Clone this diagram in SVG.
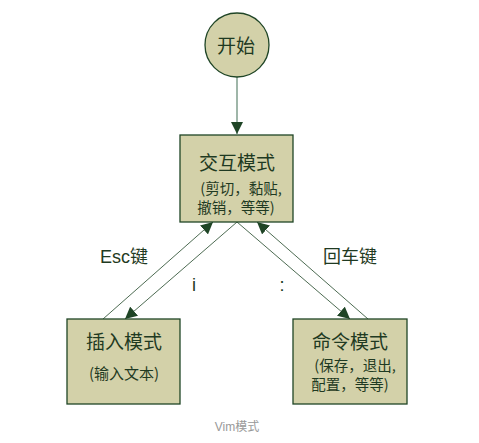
<svg xmlns="http://www.w3.org/2000/svg" width="479" height="443" viewBox="0 0 479 443">
<style>
.n{fill:#d3d1a9;stroke:#1f4526;stroke-width:1.3}
.t{font-family:"Noto Sans CJK SC","Liberation Sans",sans-serif;fill:#1f3a22;text-anchor:middle}
.c{stroke:#1f4526;stroke-width:0.8;fill:none}
.l{font-family:"Liberation Sans","Noto Sans CJK SC",sans-serif;fill:#1f3a22;font-size:18px;text-anchor:middle}
</style>
<defs>
<marker id="a" viewBox="0 0 10 10" refX="10" refY="5" markerWidth="12" markerHeight="12" markerUnits="userSpaceOnUse" orient="auto">
<path d="M0,0 L10,5 L0,10 z" fill="#1f4526"/>
</marker>
</defs>
<rect width="479" height="443" fill="#fff"/>
<g id="connectors">
<line x1="237" y1="77" x2="237" y2="134" stroke="#7f9e8c" stroke-width="1.5" marker-end="url(#a)"/>
<line class="c" x1="103" y1="319" x2="213" y2="222" marker-end="url(#a)"/>
<line class="c" x1="237" y1="222" x2="125" y2="319" marker-end="url(#a)"/>
<line class="c" x1="237" y1="222" x2="350" y2="319" marker-end="url(#a)"/>
<line class="c" x1="368" y1="319" x2="257" y2="222" marker-end="url(#a)"/>
<text class="l" x="124" y="263">Esc键</text>
<text class="l" x="194" y="291">i</text>
<text class="l" x="282" y="291">:</text>
<text class="l" x="350" y="263">回车键</text>
</g>
<g id="start">
<circle class="n" cx="237" cy="45" r="32"/>
<text class="t" x="236" y="53" font-size="19">开始</text>
</g>
<g id="interactive">
<rect class="n" x="180" y="135" width="113" height="87"/>
<text class="t" x="237" y="170" font-size="19">交互模式</text>
<text class="t" x="241" y="194" font-size="14.5">(剪切，黏贴,</text>
<text class="t" x="236" y="213" font-size="14.5">撤销，等等)</text>
</g>
<g id="insert">
<rect class="n" x="67" y="319" width="113" height="85"/>
<text class="t" x="124" y="349" font-size="19">插入模式</text>
<text class="t" x="124" y="379" font-size="15">(输入文本)</text>
</g>
<g id="command">
<rect class="n" x="293" y="319" width="114" height="85"/>
<text class="t" x="350" y="349" font-size="19">命令模式</text>
<text class="t" x="355" y="371" font-size="14.5">(保存，退出,</text>
<text class="t" x="350" y="390" font-size="14.5">配置，等等)</text>
</g>
<text x="237" y="431" font-family="Liberation Sans,Noto Sans CJK SC,sans-serif" font-size="12" fill="#999" text-anchor="middle">Vim模式</text>
</svg>
